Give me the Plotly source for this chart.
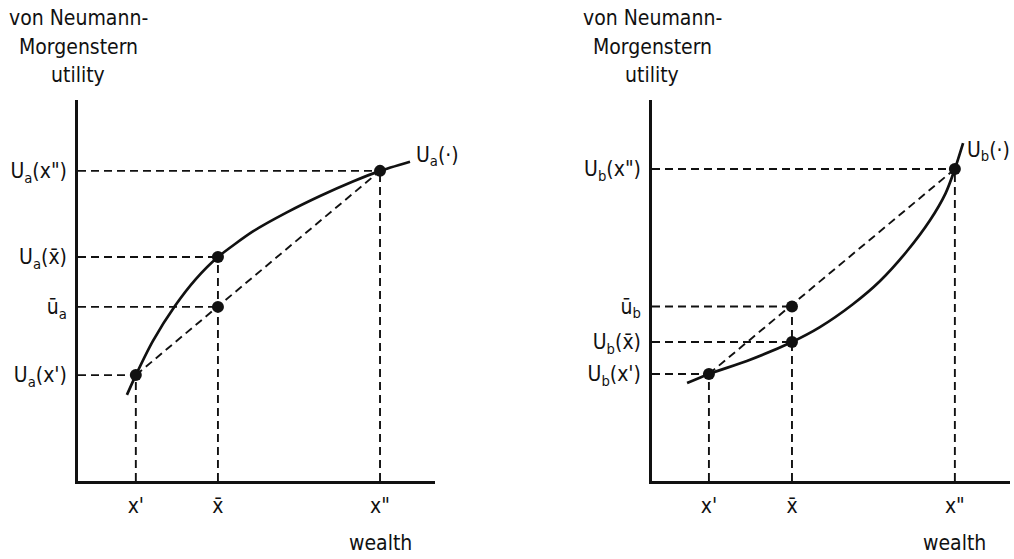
import plotly.graph_objects as go

# ---------------- data ----------------
# left panel: concave utility U_a
xa_pts = [1.62, 3.92, 8.46]            # x', x-bar, x''
ua_pts = [2.78, 5.88, 8.14]            # U_a(x'), U_a(x-bar), U_a(x'')
ua_bar = 4.57                          # expected utility u-bar_a
ua_curve_x = [1.37, 1.62, 2.10, 2.72, 3.30, 3.92, 4.90, 5.85, 6.78, 7.70, 8.46, 9.30]
ua_curve_y = [2.26, 2.78, 3.68, 4.60, 5.30, 5.88, 6.55, 7.05, 7.48, 7.86, 8.14, 8.38]

# right panel: convex utility U_b
xb_pts = [1.59, 3.91, 8.46]
ub_pts = [2.81, 3.65, 8.19]
ub_bar = 4.58
ub_curve_x = [0.98, 1.59, 2.65, 3.91, 4.69, 5.61, 6.37, 7.12, 7.77, 8.20, 8.46, 8.69]
ub_curve_y = [2.57, 2.81, 3.15, 3.65, 4.04, 4.64, 5.25, 6.03, 6.85, 7.55, 8.19, 8.87]

x_ticktext = ["x'", "x\u0304", "x\""]
ya_ticktext = ["U<sub>a</sub>(x')", "\u016b<sub>a</sub>", "U<sub>a</sub>(x\u0304)", "U<sub>a</sub>(x\")"]
yb_ticktext = ["U<sub>b</sub>(x')", "U<sub>b</sub>(x\u0304)", "\u016b<sub>b</sub>", "U<sub>b</sub>(x\")"]
title_lines = ["von Neumann-", "Morgenstern", "utility"]
xlabel = "wealth"

# ---------------- styling ----------------
FONT = "DejaVu Sans Condensed, Liberation Sans Narrow, Arial Narrow, sans-serif"
INK = "#111111"
DASH = "8px,5px"
W = 1014
H = 559
FS = 21

fig = go.Figure()


def panel(xs, us, ubar, cx, cy, xr, yr):
    for yv, xv in [(us[0], xs[0]), (ubar, xs[1]), (us[1], xs[1]), (us[2], xs[2])]:
        fig.add_trace(go.Scatter(x=[0, xv], y=[yv, yv], mode="lines",
                                 line=dict(color=INK, width=1.9, dash=DASH),
                                 xaxis=xr, yaxis=yr, hoverinfo="skip", showlegend=False))
    tops = [us[0], max(us[1], ubar), us[2]]
    for xv, yv in zip(xs, tops):
        fig.add_trace(go.Scatter(x=[xv, xv], y=[0, yv], mode="lines",
                                 line=dict(color=INK, width=1.9, dash=DASH),
                                 xaxis=xr, yaxis=yr, hoverinfo="skip", showlegend=False))
    fig.add_trace(go.Scatter(x=[xs[0], xs[2]], y=[us[0], us[2]], mode="lines",
                             line=dict(color=INK, width=1.9, dash=DASH),
                             xaxis=xr, yaxis=yr, hoverinfo="skip", showlegend=False))
    fig.add_trace(go.Scatter(x=cx, y=cy, mode="lines",
                             line=dict(color=INK, width=2.7, shape="spline", smoothing=0.6),
                             xaxis=xr, yaxis=yr, hoverinfo="skip", showlegend=False))
    fig.add_trace(go.Scatter(x=[xs[0], xs[1], xs[1], xs[2]], y=[us[0], us[1], ubar, us[2]],
                             mode="markers", marker=dict(color=INK, size=12),
                             xaxis=xr, yaxis=yr, hoverinfo="skip", showlegend=False))


panel(xa_pts, ua_pts, ua_bar, ua_curve_x, ua_curve_y, "x", "y")
panel(xb_pts, ub_pts, ub_bar, ub_curve_x, ub_curve_y, "x2", "y2")

ydom = [1 - 481 / H, 1 - 100 / H]
xdom_a = [78 / W, 435 / W]
xdom_b = [652 / W, 1010 / W]

axis_common = dict(range=[0, 10], showgrid=False, zeroline=False, showline=True,
                   linecolor=INK, linewidth=2.7, ticks="", fixedrange=True, automargin=False,
                   tickfont=dict(family=FONT, size=FS, color=INK))

fig.update_layout(
    width=W, height=H, margin=dict(l=0, r=0, t=0, b=0, autoexpand=False),
    paper_bgcolor="white", plot_bgcolor="white", showlegend=False,
    font=dict(family=FONT, size=FS, color=INK),
    xaxis=dict(domain=xdom_a, anchor="y", tickvals=xa_pts, ticktext=x_ticktext,
               ticklabelstandoff=4, **axis_common),
    yaxis=dict(domain=ydom, anchor="x",
               tickvals=[ua_pts[0], ua_bar, ua_pts[1], ua_pts[2]], ticktext=ya_ticktext,
               ticklabelstandoff=4, **axis_common),
    xaxis2=dict(domain=xdom_b, anchor="y2", tickvals=xb_pts, ticktext=x_ticktext,
                ticklabelstandoff=4, **axis_common),
    yaxis2=dict(domain=ydom, anchor="x2",
                tickvals=[ub_pts[0], ub_pts[1], ub_bar, ub_pts[2]], ticktext=yb_ticktext,
                ticklabelstandoff=4, **axis_common),
)

ann = []
title_y = [18, 47, 75]
for xr in ["x", "x2"]:
    for line, py in zip(title_lines, title_y):
        ann.append(dict(text=line, xref=xr, x=0, yref="paper", y=1 - py / H,
                        xanchor="center", yanchor="middle", showarrow=False,
                        font=dict(family=FONT, size=FS, color=INK)))

ann.append(dict(text=xlabel, xref="x", x=xa_pts[2], yref="paper", y=1 - 543 / H,
                xanchor="center", yanchor="middle", showarrow=False,
                font=dict(family=FONT, size=FS, color=INK)))
ann.append(dict(text=xlabel, xref="x2", x=xb_pts[2], yref="paper", y=1 - 543 / H,
                xanchor="center", yanchor="middle", showarrow=False,
                font=dict(family=FONT, size=FS, color=INK)))

ann.append(dict(text="U<sub>a</sub>(\u00b7)", xref="x", x=ua_curve_x[-1], yref="y", y=ua_curve_y[-1],
                xanchor="left", yanchor="middle", xshift=4, yshift=6, showarrow=False,
                font=dict(family=FONT, size=FS, color=INK)))
ann.append(dict(text="U<sub>b</sub>(\u00b7)", xref="x2", x=ub_curve_x[-1], yref="y2", y=ub_curve_y[-1],
                xanchor="left", yanchor="middle", xshift=2, yshift=-8, showarrow=False,
                font=dict(family=FONT, size=FS, color=INK)))

fig.update_layout(annotations=ann)

fig.write_html("out.html", config={"displayModeBar": False},
               post_script="document.body.style.margin='0';document.body.style.padding='0';")
